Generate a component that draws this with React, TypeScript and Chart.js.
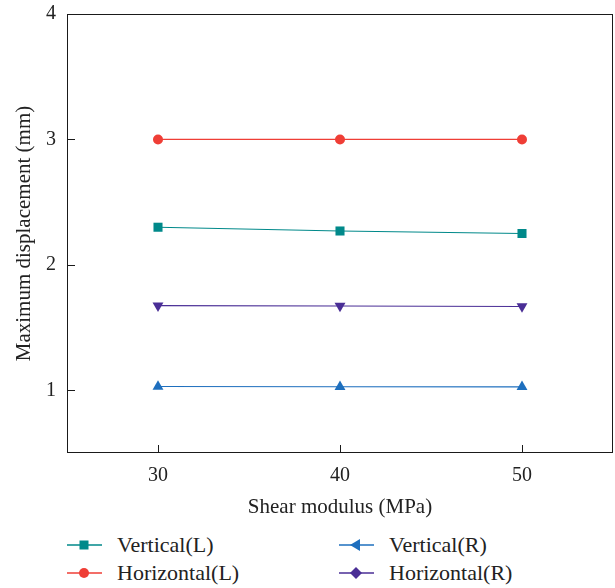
import React, { useEffect, useRef } from "react";
import { Chart, registerables } from "chart.js";

Chart.register(...registerables);

const shearModulus = [30, 40, 50];
const xTicks = [30, 40, 50];
const yTicks = [1, 2, 3, 4];
const verticalL = [2.3, 2.27, 2.25];
const horizontalL = [3.0, 3.0, 3.0];
const verticalR = [1.03, 1.028, 1.027];
const horizontalR = [1.675, 1.672, 1.668];

const TEAL = "#00898a";
const RED = "#ef3e36";
const BLUE = "#1e6fbe";
const PURPLE = "#4a2e96";
const FONT = "'Liberation Serif', 'DejaVu Serif', serif";

const toPoints = (ys: number[]) => shearModulus.map((x, i) => ({ x, y: ys[i] }));

const frameAndTicks = {
  id: "frameAndTicks",
  afterDraw(chart: any) {
    const { ctx, chartArea } = chart;
    const xs = chart.scales.x;
    const ys = chart.scales.y;
    ctx.save();
    ctx.strokeStyle = "#1a1a1a";
    ctx.lineWidth = 1;
    ctx.strokeRect(chartArea.left + 0.5, chartArea.top + 0.5, chartArea.right - chartArea.left - 1, chartArea.bottom - chartArea.top - 1);
    ctx.beginPath();
    xTicks.forEach((v) => {
      const px = Math.round(xs.getPixelForValue(v)) + 0.5;
      ctx.moveTo(px, chartArea.bottom);
      ctx.lineTo(px, chartArea.bottom - 8);
    });
    yTicks.forEach((v) => {
      const py = Math.round(ys.getPixelForValue(v)) + 0.5;
      ctx.moveTo(chartArea.left, py);
      ctx.lineTo(chartArea.left + 8, py);
    });
    ctx.stroke();
    ctx.restore();
  },
};

const legendItems = [
  { label: "Vertical(L)", color: TEAL, marker: "square" },
  { label: "Vertical(R)", color: BLUE, marker: "triLeft" },
  { label: "Horizontal(L)", color: RED, marker: "circle" },
  { label: "Horizontal(R)", color: PURPLE, marker: "diamond" },
];

function Marker({ kind, color }: { kind: string; color: string }) {
  const cx = 17, cy = 8;
  let shape: any = null;
  if (kind === "square") shape = <rect x={cx - 4.5} y={cy - 4.5} width={9} height={9} fill={color} />;
  else if (kind === "circle") shape = <circle cx={cx} cy={cy} r={5} fill={color} />;
  else if (kind === "triLeft") shape = <polygon points={`${cx - 6},${cy} ${cx + 4},${cy - 6} ${cx + 4},${cy + 6}`} fill={color} />;
  else shape = <polygon points={`${cx},${cy - 6} ${cx + 6},${cy} ${cx},${cy + 6} ${cx - 6},${cy}`} fill={color} />;
  return (
    <svg width={36} height={16} style={{ display: "block" }}>
      <line x1={0} y1={cy} x2={35} y2={cy} stroke={color} strokeWidth={1.5} />
      {shape}
    </svg>
  );
}

export default function App() {
  const ref = useRef<HTMLCanvasElement | null>(null);
  useEffect(() => {
    if (!ref.current) return;
    const common = { borderWidth: 1.2, pointBorderWidth: 0, fill: false, tension: 0 };
    const chart = new Chart(ref.current, {
      type: "line",
      data: {
        datasets: [
          { ...common, label: "Vertical(L)", data: toPoints(verticalL), borderColor: TEAL, backgroundColor: TEAL, pointStyle: "rect", pointRadius: 6.4 },
          { ...common, label: "Vertical(R)", data: toPoints(verticalR), borderColor: BLUE, backgroundColor: BLUE, pointStyle: "triangle", pointRadius: 6.3 },
          { ...common, label: "Horizontal(L)", data: toPoints(horizontalL), borderColor: RED, backgroundColor: RED, pointStyle: "circle", pointRadius: 5 },
          { ...common, label: "Horizontal(R)", data: toPoints(horizontalR), borderColor: PURPLE, backgroundColor: PURPLE, pointStyle: "triangle", rotation: 180, pointRadius: 6.3 },
        ] as any,
      },
      options: {
        animation: false,
        responsive: false,
        maintainAspectRatio: false,
        layout: { autoPadding: false, padding: { top: 14, right: 2, bottom: 0, left: 0 } },
        plugins: { legend: { display: false }, tooltip: { enabled: false } },
        scales: {
          x: {
            type: "linear",
            min: 25,
            max: 55,
            grid: { display: false },
            border: { display: false },
            afterBuildTicks: (axis: any) => { axis.ticks = xTicks.map((v) => ({ value: v })); },
            afterFit: (axis: any) => { axis.height = 67; axis.paddingLeft = 0; axis.paddingRight = 0; },
            ticks: { color: "#222", font: { family: FONT, size: 20 }, padding: 3 },
            title: { display: true, text: "Shear modulus (MPa)", color: "#222", font: { family: FONT, size: 21 }, padding: { top: 6, bottom: 0 } },
          },
          y: {
            type: "linear",
            min: 0.5,
            max: 4,
            grid: { display: false },
            border: { display: false },
            afterBuildTicks: (axis: any) => { axis.ticks = yTicks.map((v) => ({ value: v })); },
            afterFit: (axis: any) => { axis.width = 67; axis.paddingTop = 0; axis.paddingBottom = 0; },
            ticks: { color: "#222", font: { family: FONT, size: 20 }, padding: 3 },
            title: { display: true, text: "Maximum displacement (mm)", color: "#222", font: { family: FONT, size: 21 }, padding: { top: 12, bottom: 4 } },
          },
        },
      } as any,
      plugins: [frameAndTicks],
    });
    return () => chart.destroy();
  }, []);

  return (
    <div style={{ position: "absolute", left: 0, top: 0, width: 615, height: 588, background: "#fff" }}>
      <canvas ref={ref} width={615} height={520} style={{ display: "block" }} />
      <div style={{ position: "absolute", left: 67, top: 534, display: "grid", gridTemplateColumns: "272px 240px", rowGap: 6, fontFamily: FONT, fontSize: 22, color: "#222" }}>
        {legendItems.map((it) => (
          <div key={it.label} style={{ display: "flex", alignItems: "center", height: 22 }}>
            <Marker kind={it.marker} color={it.color} />
            <span style={{ marginLeft: 14, lineHeight: "22px" }}>{it.label}</span>
          </div>
        ))}
      </div>
    </div>
  );
}
